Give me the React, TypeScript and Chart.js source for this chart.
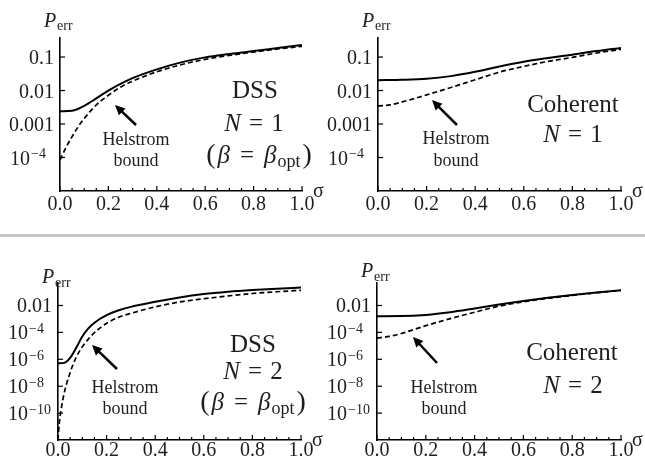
import React, { useEffect, useRef } from 'react';
import { Chart, registerables } from 'chart.js';

Chart.register(...registerables);

// ---------- DATA ----------
// Panel 1: DSS, N = 1
const dssN1SigmaMeasured = [0, 0.05, 0.1, 0.15, 0.2, 0.25, 0.3, 0.4, 0.5, 0.6, 0.7, 0.8, 0.9, 1.0];
const dssN1Measured = [0.0024, 0.0025, 0.0035, 0.0058, 0.01, 0.0158, 0.0234, 0.0427, 0.0692, 0.0977, 0.123, 0.151, 0.186, 0.229];
const dssN1SigmaHelstrom = [0, 0.025, 0.05, 0.075, 0.1, 0.15, 0.2, 0.25, 0.3, 0.4, 0.5, 0.6, 0.7, 0.8, 0.9, 1.0];
const dssN1Helstrom = [8.5e-5, 2.0e-4, 4.2e-4, 8.3e-4, 1.45e-3, 3.7e-3, 7.2e-3, 0.0126, 0.019, 0.0363, 0.0589, 0.0851, 0.112, 0.141, 0.174, 0.209];

// Panel 2: Coherent, N = 1
const cohN1SigmaMeasured = [0, 0.1, 0.2, 0.3, 0.4, 0.5, 0.6, 0.7, 0.8, 0.9, 1.0];
const cohN1Measured = [0.0204, 0.0209, 0.0224, 0.0269, 0.0363, 0.0525, 0.0724, 0.0933, 0.1175, 0.151, 0.186];
const cohN1SigmaHelstrom = [0, 0.05, 0.1, 0.2, 0.3, 0.4, 0.5, 0.6, 0.7, 0.8, 0.9, 1.0];
const cohN1Helstrom = [0.00347, 0.00372, 0.00457, 0.00741, 0.0123, 0.0209, 0.0355, 0.0525, 0.0741, 0.0977, 0.132, 0.17];

// Panel 3: DSS, N = 2
const dssN2SigmaMeasured = [0, 0.025, 0.05, 0.075, 0.1, 0.125, 0.15, 0.2, 0.25, 0.3, 0.4, 0.5, 0.6, 0.7, 0.8, 0.9, 1.0];
const dssN2Measured = [5.0e-7, 5.4e-7, 1.26e-6, 7.1e-6, 5.0e-5, 2.0e-4, 5.25e-4, 1.9e-3, 4.4e-3, 7.9e-3, 0.019, 0.04, 0.071, 0.105, 0.141, 0.178, 0.214];
const dssN2SigmaHelstrom = [0, 0.005, 0.015, 0.025, 0.05, 0.075, 0.1, 0.125, 0.15, 0.2, 0.25, 0.3, 0.4, 0.5, 0.6, 0.7, 0.8, 0.9, 1.0];
const dssN2Helstrom = [1e-12, 1.6e-11, 3.2e-10, 2.8e-9, 1.05e-7, 1.4e-6, 8.5e-6, 3.2e-5, 9.5e-5, 4.8e-4, 1.35e-3, 2.6e-3, 7.9e-3, 0.0182, 0.0316, 0.0513, 0.0776, 0.105, 0.135];

// Panel 4: Coherent, N = 2
const cohN2SigmaMeasured = [0, 0.1, 0.2, 0.3, 0.4, 0.5, 0.6, 0.7, 0.8, 0.9, 1.0];
const cohN2Measured = [1.58e-3, 1.62e-3, 2.0e-3, 3.16e-3, 6.0e-3, 0.0117, 0.0214, 0.0372, 0.0603, 0.0933, 0.138];
const cohN2SigmaHelstrom = [0, 0.05, 0.1, 0.2, 0.3, 0.4, 0.5, 0.6, 0.7, 0.8, 0.9, 1.0];
const cohN2Helstrom = [3.8e-5, 5.0e-5, 8.3e-5, 3.16e-4, 1.05e-3, 3.16e-3, 8.9e-3, 0.019, 0.0339, 0.0562, 0.0891, 0.132];

// Tick labels
const xTickValues = [0, 0.2, 0.4, 0.6, 0.8, 1.0];
const topYTicks = [1e-4, 1e-3, 1e-2, 0.1];
const bottomYTicks = [1e-10, 1e-8, 1e-6, 1e-4, 1e-2];

// ---------- LAYOUT ----------
const W = 645;
const H = 461;
const FONT = '"Liberation Serif", "Times New Roman", serif';
const INK = '#1e1e1e';

type Pt = [number, number];
interface PanelDef {
  area: { left: number; top: number; right: number; bottom: number };
  yMin: number;
  yMax: number;
  yTicks: number[];
  sx: number[]; sy: number[];
  dx: number[]; dy: number[];
  title: string;
  n: string;
  beta: boolean;
  xPad: number;
  pDy: number; errDy: number;
  tTitle: Pt; tN: Pt; tBeta: Pt; tHel: Pt; tBound: Pt; aFrom: Pt; aTo: Pt;
}

const panels: PanelDef[] = [
  {
    area: { left: 60, top: 38, right: 302, bottom: 191 }, yMin: 1e-5, yMax: 0.37, yTicks: topYTicks,
    sx: dssN1SigmaMeasured, sy: dssN1Measured, dx: dssN1SigmaHelstrom, dy: dssN1Helstrom,
    title: 'DSS', n: '1', beta: true, xPad: 2, pDy: -11, errDy: -8,
    tTitle: [195, 60], tN: [194, 93], tBeta: [199, 125], tHel: [76, 107], tBound: [76, 128], aFrom: [76, 87], aTo: [55, 67],
  },
  {
    area: { left: 378, top: 38, right: 621, bottom: 191 }, yMin: 1e-5, yMax: 0.37, yTicks: topYTicks,
    sx: cohN1SigmaMeasured, sy: cohN1Measured, dx: cohN1SigmaHelstrom, dy: cohN1Helstrom,
    title: 'Coherent', n: '1', beta: false, xPad: 2, pDy: -11, errDy: -8,
    tTitle: [195, 74], tN: [195, 104], tBeta: [0, 0], tHel: [78, 106], tBound: [78, 128], aFrom: [79, 87], aTo: [54, 62],
  },
  {
    area: { left: 58, top: 283, right: 301, bottom: 440 }, yMin: 1e-12, yMax: 0.47, yTicks: bottomYTicks,
    sx: dssN2SigmaMeasured, sy: dssN2Measured, dx: dssN2SigmaHelstrom, dy: dssN2Helstrom,
    title: 'DSS', n: '2', beta: true, xPad: -1, pDy: 0, errDy: 4,
    tTitle: [195, 69], tN: [195, 96], tBeta: [195, 127], tHel: [67, 110], tBound: [67, 131], aFrom: [59, 86], aTo: [34, 62],
  },
  {
    area: { left: 377, top: 283, right: 621, bottom: 440 }, yMin: 1e-12, yMax: 0.47, yTicks: bottomYTicks,
    sx: cohN2SigmaMeasured, sy: cohN2Measured, dx: cohN2SigmaHelstrom, dy: cohN2Helstrom,
    title: 'Coherent', n: '2', beta: false, xPad: -1, pDy: -6, errDy: -2,
    tTitle: [195, 77], tN: [196, 110], tBeta: [0, 0], tHel: [67, 110], tBound: [67, 131], aFrom: [60, 80], aTo: [36, 54],
  },
];

interface Seg { t: string; size: number; italic?: boolean; dy?: number; gap?: number }

function fontStr(size: number, italic?: boolean) {
  return `${italic ? 'italic ' : ''}${size}px ${FONT}`;
}

function drawSegments(ctx: CanvasRenderingContext2D, segs: Seg[], cx: number, baseline: number) {
  let total = 0;
  const widths = segs.map((s) => {
    ctx.font = fontStr(s.size, s.italic);
    const w = ctx.measureText(s.t).width;
    total += w + (s.gap || 0);
    return w;
  });
  let x = cx - total / 2;
  segs.forEach((s, i) => {
    x += s.gap || 0;
    ctx.font = fontStr(s.size, s.italic);
    ctx.fillText(s.t, x, baseline + (s.dy || 0));
    x += widths[i];
  });
}

function drawArrow(ctx: CanvasRenderingContext2D, x1: number, y1: number, x2: number, y2: number) {
  const ang = Math.atan2(y2 - y1, x2 - x1);
  const hl = 10;
  const hw = 4.8;
  const bx = x2 - hl * Math.cos(ang);
  const by = y2 - hl * Math.sin(ang);
  ctx.lineWidth = 2.5;
  ctx.beginPath();
  ctx.moveTo(x1, y1);
  ctx.lineTo(bx + 1.5 * Math.cos(ang), by + 1.5 * Math.sin(ang));
  ctx.stroke();
  ctx.beginPath();
  ctx.moveTo(x2, y2);
  ctx.lineTo(bx - hw * Math.sin(ang), by + hw * Math.cos(ang));
  ctx.lineTo(bx + hw * Math.sin(ang), by - hw * Math.cos(ang));
  ctx.closePath();
  ctx.fill();
}

function makeDecor(p: PanelDef) {
  return {
    id: 'decor',
    afterDraw(chart: any) {
      const ctx: CanvasRenderingContext2D = chart.ctx;
      const xs = chart.scales.x;
      const ys = chart.scales.y;
      const a = chart.chartArea;
      ctx.save();
      ctx.strokeStyle = '#000';
      ctx.fillStyle = INK;
      ctx.lineWidth = 1.2;
      ctx.textBaseline = 'alphabetic';

      // x-axis inner ticks (major every 0.2, minor every 0.05)
      for (let i = 0; i <= 20; i++) {
        const x = xs.getPixelForValue(i * 0.05);
        const len = i % 4 === 0 ? 5 : 3;
        ctx.beginPath();
        ctx.moveTo(x, a.bottom);
        ctx.lineTo(x, a.bottom - len);
        ctx.stroke();
      }

      // y ticks and labels
      ys.ticks.forEach((t: any) => {
        const v = t.value;
        const y = ys.getPixelForValue(v);
        ctx.beginPath();
        ctx.moveTo(a.left, y);
        ctx.lineTo(a.left + 5, y);
        ctx.stroke();
        if (v >= 1e-3) {
          ctx.font = fontStr(20);
          ctx.textAlign = 'right';
          ctx.fillText(String(v), a.left - 6, y + 7);
        } else {
          const e = Math.round(Math.log10(v));
          ctx.textAlign = 'left';
          ctx.font = fontStr(20);
          const x0 = a.left - 50;
          ctx.fillText('10', x0, y + 7);
          const w10 = ctx.measureText('10').width;
          ctx.font = fontStr(14);
          ctx.fillText('\u2212' + Math.abs(e), x0 + w10 + 1, y + 0.5);
        }
      });

      // P_err label
      ctx.textAlign = 'left';
      ctx.font = fontStr(20, true);
      ctx.fillText('P', a.left - 16, a.top + p.pDy);
      ctx.font = fontStr(14);
      ctx.fillText('err', a.left - 3, a.top + p.errDy);

      // sigma label
      ctx.font = fontStr(20);
      ctx.fillText('\u03c3', a.right + 11, a.bottom + 6);

      // Title annotations
      ctx.font = fontStr(25);
      ctx.textAlign = 'center';
      ctx.fillText(p.title, a.left + p.tTitle[0], a.top + p.tTitle[1]);
      ctx.textAlign = 'left';
      drawSegments(ctx, [
        { t: 'N', size: 25, italic: true },
        { t: '=', size: 25, gap: 8 },
        { t: p.n, size: 25, gap: 8 },
      ], a.left + p.tN[0], a.top + p.tN[1]);
      if (p.beta) {
        drawSegments(ctx, [
          { t: '(', size: 28 },
          { t: '\u03b2', size: 25, italic: true, gap: 2 },
          { t: '=', size: 25, gap: 10 },
          { t: '\u03b2', size: 25, italic: true, gap: 10 },
          { t: 'opt', size: 18, dy: 4, gap: 1 },
          { t: ')', size: 28, gap: 2 },
        ], a.left + p.tBeta[0], a.top + p.tBeta[1]);
      }

      // Helstrom bound label + arrow
      ctx.font = fontStr(18);
      ctx.textAlign = 'center';
      ctx.fillText('Helstrom', a.left + p.tHel[0], a.top + p.tHel[1]);
      ctx.fillText('bound', a.left + p.tBound[0], a.top + p.tBound[1]);
      ctx.fillStyle = '#000';
      drawArrow(ctx, a.left + p.aFrom[0], a.top + p.aFrom[1], a.left + p.aTo[0], a.top + p.aTo[1]);

      ctx.restore();
    },
  };
}

function buildConfig(p: PanelDef): any {
  const yw = 5;
  const xh = 20;
  return {
    type: 'line',
    data: {
      datasets: [
        {
          label: 'measured',
          data: p.sx.map((x, i) => ({ x, y: p.sy[i] })),
          borderColor: '#000',
          borderWidth: 2,
          pointRadius: 0,
          fill: false,
          cubicInterpolationMode: 'monotone',
        },
        {
          label: 'Helstrom bound',
          data: p.dx.map((x, i) => ({ x, y: p.dy[i] })),
          borderColor: '#000',
          borderWidth: 1.7,
          borderDash: [5, 3],
          pointRadius: 0,
          fill: false,
          cubicInterpolationMode: 'monotone',
        },
      ],
    },
    options: {
      responsive: false,
      maintainAspectRatio: false,
      animation: false,
      events: [],
      layout: {
        padding: {
          left: p.area.left - yw,
          right: W - p.area.right,
          top: p.area.top,
          bottom: H - p.area.bottom - xh,
        },
      },
      plugins: {
        legend: { display: false },
        tooltip: { enabled: false },
        title: { display: false },
      },
      scales: {
        x: {
          type: 'linear',
          min: 0,
          max: 1,
          grid: { display: false, drawTicks: false },
          border: { display: true, color: '#000', width: 1.6 },
          afterBuildTicks: (s: any) => { s.ticks = xTickValues.map((v) => ({ value: v })); },
          ticks: {
            autoSkip: false,
            maxRotation: 0,
            padding: p.xPad,
            color: INK,
            font: { family: FONT, size: 20 },
            callback: (v: any) => Number(v).toFixed(1),
          },
          afterFit: (s: any) => { s.height = xh; },
        },
        y: {
          type: 'logarithmic',
          min: p.yMin,
          max: p.yMax,
          grid: { display: false, drawTicks: false },
          border: { display: true, color: '#000', width: 1.6 },
          ticks: { display: false },
          afterBuildTicks: (s: any) => { s.ticks = p.yTicks.map((v) => ({ value: v })); },
          afterFit: (s: any) => { s.width = yw; },
        },
      },
    },
    plugins: [makeDecor(p)],
  };
}

function PanelChart({ panel }: { panel: PanelDef }) {
  const ref = useRef<HTMLCanvasElement | null>(null);
  useEffect(() => {
    if (!ref.current) return;
    const chart = new Chart(ref.current, buildConfig(panel));
    return () => chart.destroy();
  }, [panel]);
  return (
    <canvas
      ref={ref}
      width={W}
      height={H}
      style={{ position: 'absolute', left: 0, top: 0, width: W, height: H }}
    />
  );
}

export default function App() {
  return (
    <div
      style={{
        position: 'fixed',
        left: 0,
        top: 0,
        width: W,
        height: H,
        background: '#fff',
        overflow: 'hidden',
      }}
    >
      <div style={{ position: 'absolute', left: 0, top: 234, width: W, height: 3, background: '#c6c6c6' }} />
      {panels.map((p, i) => (
        <PanelChart key={i} panel={p} />
      ))}
    </div>
  );
}
